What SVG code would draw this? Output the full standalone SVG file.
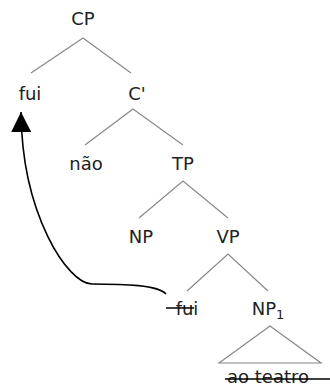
<svg xmlns="http://www.w3.org/2000/svg" width="330" height="392" viewBox="0 0 330 392">
<style>
text{font-family:"DejaVu Sans","Liberation Sans",sans-serif;font-size:18px;fill:#222;text-anchor:middle}
.br{stroke:#888;stroke-width:1.2;fill:none}
.st{stroke:#000;stroke-width:1.5}
.mv{stroke:#000;stroke-width:1.6;fill:none}
</style>
<defs>
<marker id="ah" markerUnits="userSpaceOnUse" markerWidth="22" markerHeight="22" refX="20" refY="10" orient="auto" viewBox="0 0 22 20">
<path d="M0,0 L20,10 L0,20 Z" fill="#000"/>
</marker>
</defs>
<g id="connectors">
<path class="br" d="M31,73 L83,38 L131,73"/>
<path class="br" d="M85,145 L133,109 L183,145"/>
<path class="br" d="M139,218 L183,181 L228,218"/>
<path class="br" d="M187,291 L228,254 L268,291"/>
<path class="br" d="M219,363 L270,326 L321,363 Z"/>
<path class="mv" d="M166,294 C158,285 125,284 92,284 C68,284 22,215 21,112" marker-end="url(#ah)"/>
</g>
<g id="CP"><text x="83" y="25">CP</text></g>
<g id="fui-top"><text x="30" y="100">fui</text></g>
<g id="Cbar"><text x="137" y="100">C'</text></g>
<g id="nao"><text x="86" y="170">não</text></g>
<g id="TP"><text x="183" y="170">TP</text></g>
<g id="NP"><text x="141" y="243">NP</text></g>
<g id="VP"><text x="228" y="243">VP</text></g>
<g id="fui-trace"><text x="187" y="315">fui</text><line class="st" x1="166" y1="308" x2="194" y2="308"/></g>
<g id="NP1"><text x="268" y="315">NP<tspan font-size="13" dy="4">1</tspan></text></g>
<g id="ao-teatro"><text x="268" y="383">ao teatro</text><line class="st" x1="225" y1="379" x2="330" y2="379"/></g>
</svg>
